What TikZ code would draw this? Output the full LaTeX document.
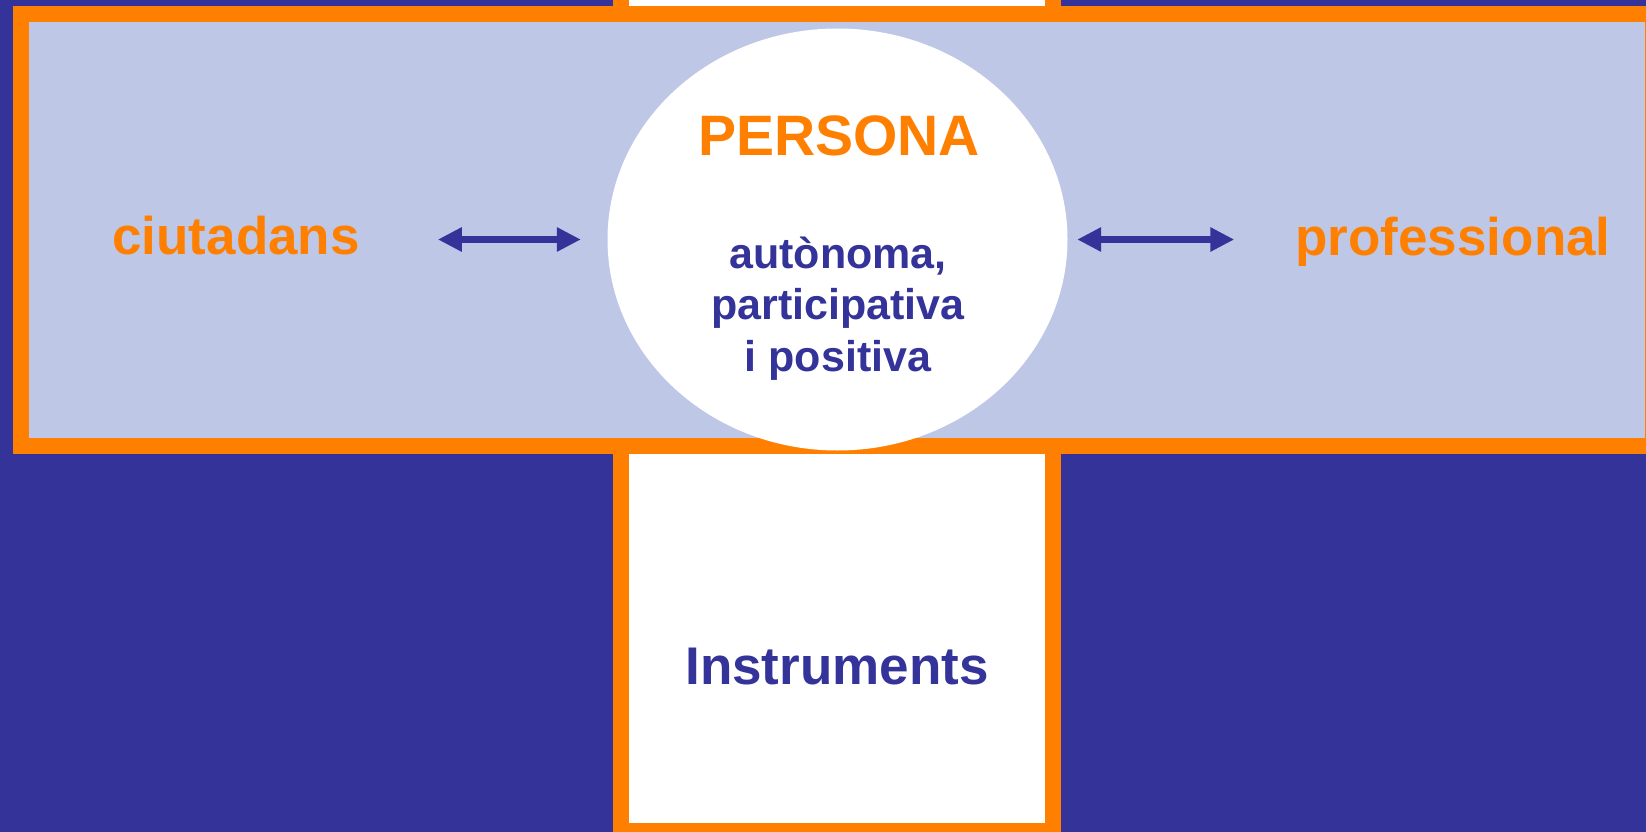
\documentclass[tikz,border=0pt]{standalone}
\usepackage{fontspec}
\setmainfont{Liberation Sans}
\usetikzlibrary{shapes.geometric,arrows.meta}
\definecolor{navy}{HTML}{333399}
\definecolor{orng}{HTML}{FF8000}
\definecolor{paleblue}{HTML}{BEC7E6}

\begin{document}
\begin{tikzpicture}[x=1pt,y=-1pt,
    frame/.style={draw=orng,line width=16pt},
    txt/.style={inner sep=0pt,anchor=base,font=\bfseries\fontsize{53}{60}\selectfont},
    link/.style={draw=navy,line width=7.5pt,{Triangle[length=24pt,width=23pt]}-{Triangle[length=24pt,width=23pt]}}]
    \useasboundingbox (0,0) rectangle (1646,832);
    \clip (0,0) rectangle (1646,832);
    \fill[navy] (0,0) rectangle (1646,832);
    \path[frame,fill=white] (621,-20) rectangle (1053,831);
    \path[frame,fill=paleblue] (20.5,14) rectangle (1653,446);
    \node[ellipse,fill=white,minimum width=460pt,minimum height=422pt,inner sep=0pt] (persona) at (837.5,239.5) {};
    \node[txt,text=orng] (ciut) at (236,254) {ciutadans};
    \node[txt,text=orng] (prof) at (1453,255) {professional};
    \node[txt,text=orng,font=\bfseries\fontsize{57}{60}\selectfont] (title) at (839,155) {PERSONA};
    \node[txt,text=navy,anchor=north,align=center,font=\bfseries\fontsize{43}{51.5}\selectfont] (desc) at (838,236.5) {autònoma,\\participativa\\i positiva};
    \node[txt,text=navy] (instr) at (837,684) {Instruments};
    \path[link,shorten <=78pt,shorten >=26.5pt] (ciut.east |- persona.west) -- (persona.west);
    \path[link,shorten <=9.5pt,shorten >=61pt] (persona.east) -- (prof.west |- persona.east);
\end{tikzpicture}
\end{document}
